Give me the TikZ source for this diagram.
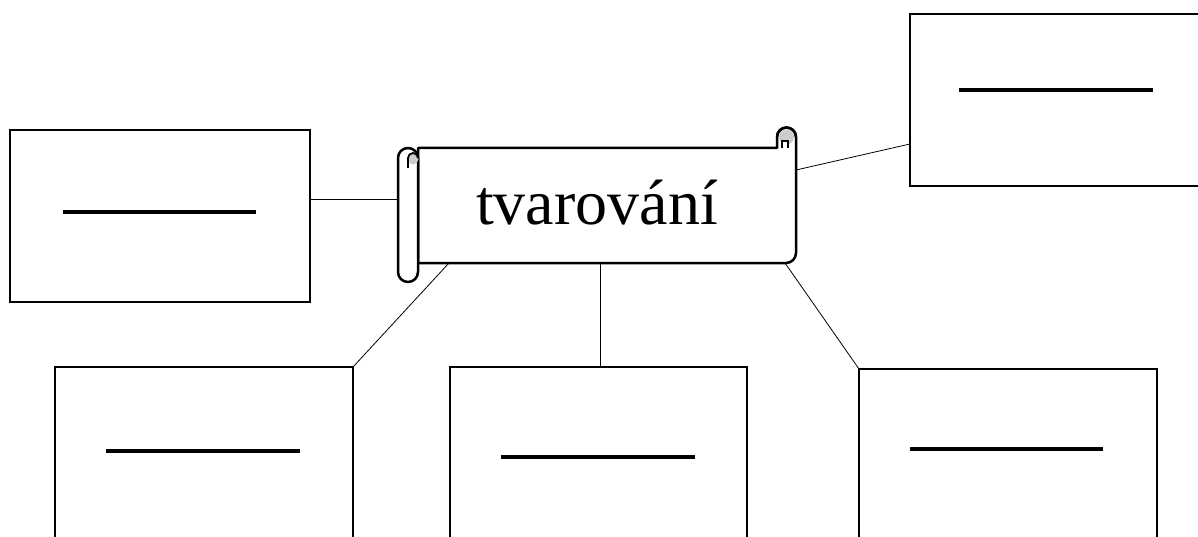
\documentclass[tikz,border=0pt]{standalone}
\usepackage{fontspec}
\setmainfont{Liberation Serif}
\begin{document}
\begin{tikzpicture}[x=1pt,y=-1pt,
  card/.style={draw=black,line width=2.5pt,fill=white},
  bar/.style={line width=4pt},
  conn/.style={line width=0.8pt},
  scrollline/.style={line width=2.5pt,line join=round}]
\useasboundingbox (0,0) rectangle (1198,537);
% boxes
\path[card] (10,130) rectangle (310,302);
\coordinate (lbox) at (310,199);
\draw[bar] (63,212) -- (256,212);
\path[card] (910,14) rectangle (1201,186);
\coordinate (trbox) at (910,144);
\draw[bar] (959,90) -- (1153,90);
\path[card] (55,367) rectangle (353,545);
\coordinate (blbox) at (353,367);
\draw[bar] (106,451) -- (300,451);
\path[card] (450,367) rectangle (747,545);
\coordinate (bmbox) at (600,367);
\draw[bar] (501,457) -- (695,457);
\path[card] (859,369) rectangle (1157,545);
\coordinate (brbox) at (859,369);
\draw[bar] (910,449) -- (1103,449);
% scroll body
\draw[scrollline,fill=white] (418,148) -- (777,148) -- (777,137) arc(180:360:9.5) -- (796,253) arc(0:90:10) -- (418,263) -- cycle;
\fill[gray!40] (786.5,137) circle (7.5);
\draw[scrollline] (777,137) arc(180:360:9.5);
\draw[line width=1.8pt,fill=white] (782,148) -- (782,141) -- (788,141) -- (788,148);
% left roll
\draw[scrollline,fill=white] (398,158) arc(180:360:10) -- (418,272) arc(0:180:10) -- cycle;
\fill[gray!40] (413,159) circle (5.5);
\draw[line width=1.8pt] (418,158) arc(0:-180:5) -- (408,168);
\node[anchor=base,font=\fontsize{64}{70}\selectfont,inner sep=0pt] (title) at (597,225) {tvarování};
\coordinate (sl) at (398,199);
\coordinate (sr) at (796,170);
\coordinate (sbl) at (449,263);
\coordinate (sbm) at (600,263);
\coordinate (sbr) at (785,263);
% connectors
\draw[conn] (lbox) -- (sl);
\draw[conn] (sr) -- (trbox);
\draw[conn] (sbl) -- (blbox);
\draw[conn] (sbm) -- (bmbox);
\draw[conn] (sbr) -- (brbox);
\end{tikzpicture}
\end{document}
